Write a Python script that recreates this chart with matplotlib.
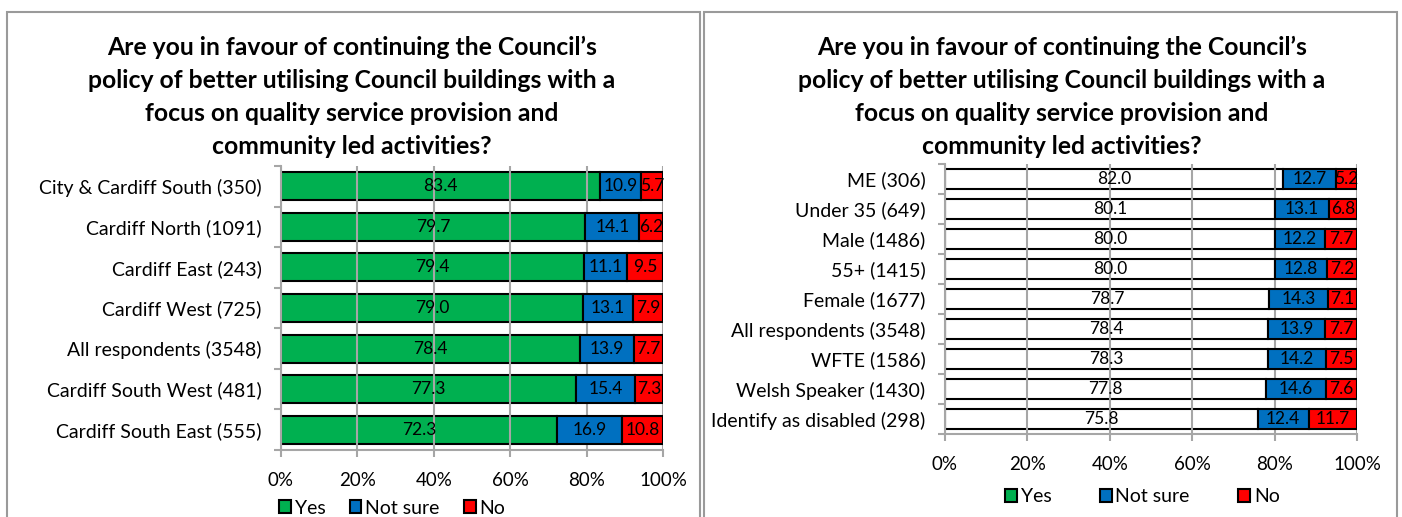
import numpy as np
import matplotlib
matplotlib.use("Agg")
import matplotlib.pyplot as plt
from matplotlib.patches import Rectangle, Patch

plt.rcParams['font.family'] = ['Lato', 'DejaVu Sans']

title = ("Are you in favour of continuing the Council\u2019s\n"
         "policy of better utilising Council buildings with a\n"
         "focus on quality service provision and\n"
         "community led activities?")

series = ["Yes", "Not sure", "No"]

area_labels = ["City & Cardiff South (350)", "Cardiff North (1091)", "Cardiff East (243)",
               "Cardiff West (725)", "All respondents (3548)", "Cardiff South West (481)",
               "Cardiff South East (555)"]
area_yes = [83.4, 79.7, 79.4, 79.0, 78.4, 77.3, 72.3]
area_notsure = [10.9, 14.1, 11.1, 13.1, 13.9, 15.4, 16.9]
area_no = [5.7, 6.2, 9.5, 7.9, 7.7, 7.3, 10.8]

group_labels = ["ME (306)", "Under 35 (649)", "Male (1486)", "55+ (1415)", "Female (1677)",
                "All respondents (3548)", "WFTE (1586)", "Welsh Speaker (1430)",
                "Identify as disabled (298)"]
group_yes = [82.0, 80.1, 80.0, 80.0, 78.7, 78.4, 78.3, 77.8, 75.8]
group_notsure = [12.7, 13.1, 12.2, 12.8, 14.3, 13.9, 14.2, 14.6, 12.4]
group_no = [5.2, 6.8, 7.7, 7.2, 7.1, 7.7, 7.5, 7.6, 11.7]

GREEN, BLUE, RED = "#00B050", "#0070C0", "#FF0000"
GRID = "#A6A6A6"

W, H = 1402, 517
fig = plt.figure(figsize=(W / 100, H / 100), dpi=100)

# panel borders
for x0, x1 in [(7, 700), (704, 1397)]:
    fig.patches.append(Rectangle((x0 / W, -0.1), (x1 - x0) / W, 1.1 - 12 / H,
                                 transform=fig.transFigure, fill=False,
                                 edgecolor="#9A9A9A", lw=1.5))


def draw(ax, labels, yes, ns, no, yes_fill, barh):
    vals = np.array([yes, ns, no], dtype=float)
    vals = vals / vals.sum(axis=0) * 100
    y = np.arange(len(labels))
    left = np.zeros(len(labels))
    fills = [yes_fill, BLUE, RED]
    raw = [yes, ns, no]
    for i in range(3):
        ax.barh(y, vals[i], left=left, height=barh, color=fills[i],
                edgecolor="black", lw=1.5, zorder=3 if i else 2.5)
        for j in range(len(labels)):
            ax.text(left[j] + vals[i][j] / 2, y[j], f"{raw[i][j]:.1f}",
                    ha="center", va="center", fontsize=12.5, zorder=5)
        left += vals[i]
    ax.set_xlim(0, 100)
    ax.set_ylim(len(labels) - 0.5, -0.5)
    ax.set_yticks(y)
    ax.set_yticklabels(labels, fontsize=14)
    ax.set_yticks(np.arange(len(labels) + 1) - 0.5, minor=True)
    ax.tick_params(axis="y", which="major", length=0, pad=14)
    ax.tick_params(axis="y", which="minor", length=5, color=GRID, width=1.5)
    ax.set_xticks(np.arange(0, 101, 20))
    ax.set_xticklabels([f"{v}%" for v in range(0, 101, 20)], fontsize=13.5)
    ax.tick_params(axis="x", length=5, color=GRID, width=1.5, pad=11)
    ax.grid(axis="x", color=GRID, lw=1.5, zorder=1)
    ax.set_axisbelow(False)
    for s in ["top", "right"]:
        ax.spines[s].set_visible(False)
    for s in ["left", "bottom"]:
        ax.spines[s].set_color(GRID)
        ax.spines[s].set_linewidth(1.5)


ax1 = fig.add_axes([281 / W, 1 - 450 / H, 382 / W, 284 / H])
draw(ax1, area_labels, area_yes, area_notsure, area_no, GREEN, 0.69)
ax2 = fig.add_axes([945 / W, 1 - 434 / H, 412 / W, 270 / H])
draw(ax2, group_labels, group_yes, group_notsure, group_no, "none", 0.67)

for cx in [352, 1062]:
    fig.text(cx / W, 1 - 36 / H, title, ha="center", va="top", fontsize=17.8,
             fontweight="bold", linespacing=1.53)

handles = [Patch(facecolor=c, edgecolor="black", lw=1.5) for c in [GREEN, BLUE, RED]]
fig.legend(handles, series, loc="center left", bbox_to_anchor=(279 / W, 1 - 508 / H),
           ncol=3, frameon=False, fontsize=14, handlelength=0.6, handleheight=0.6,
           handletextpad=0.2, columnspacing=1.25, borderpad=0, borderaxespad=0)
fig.legend(handles, series, loc="center left", bbox_to_anchor=(1005 / W, 1 - 497 / H),
           ncol=3, frameon=False, fontsize=14, handlelength=0.6, handleheight=0.6,
           handletextpad=0.2, columnspacing=2.5, borderpad=0, borderaxespad=0)

fig.savefig("out.png", dpi=100)
